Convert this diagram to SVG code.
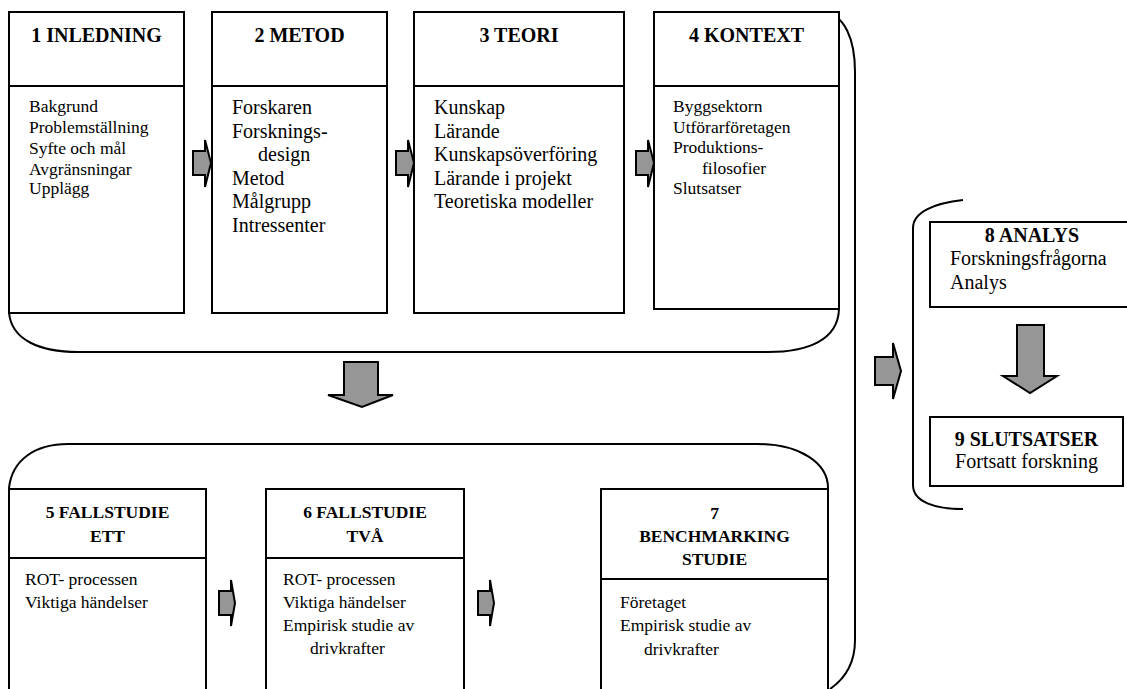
<svg xmlns="http://www.w3.org/2000/svg" width="1127" height="689" viewBox="0 0 1127 689">
  <style>
    .box { fill: #fff; stroke: #000; stroke-width: 2; }
    .div { stroke: #000; stroke-width: 2; fill: none; }
    .brk { fill: none; stroke: #000; stroke-width: 2; }
    .arr { fill: #969696; stroke: #000; stroke-width: 2; stroke-linejoin: miter; }
    .t { font-family: "Liberation Serif", "Times New Roman", serif; font-weight: bold; text-anchor: middle; fill: #000; }
    .b { font-family: "Liberation Serif", "Times New Roman", serif; fill: #000; }
    .t20 { font-size: 20px; }
    .t17 { font-size: 17.5px; }
    .s20 { font-size: 20px; }
    .s17 { font-size: 17.5px; }
  </style>
  <rect width="1127" height="689" fill="#fff"/>

  <!-- group brackets -->
  <g id="brackets">
    <path class="brk" d="M 9 312 C 11 340 40 352 78 352 L 768 352 C 808 352 838 340 839 309"/>
    <path class="brk" d="M 823 12 C 845 14 855 40 855 72 L 855 640 C 855 663 846 678 830 689"/>
    <path class="brk" d="M 9 488 C 12 460 35 444 68 444 L 757 444 C 800 444 828 463 828 488"/>
    <path class="brk" d="M 963 200 C 935 203 913 212 913 228 L 913 485 C 913 502 935 509 963 509"/>
  </g>

  <!-- chapter 1 -->
  <g id="n1">
    <rect class="box" x="9" y="12" width="175" height="301"/>
    <line class="div" x1="9" y1="86" x2="184" y2="86"/>
    <text class="t t20" x="96.5" y="42">1 INLEDNING</text>
    <text class="b s17" x="29" y="112">Bakgrund</text>
    <text class="b s17" x="29" y="133">Problemställning</text>
    <text class="b s17" x="29" y="154">Syfte och mål</text>
    <text class="b s17" x="29" y="175">Avgränsningar</text>
    <text class="b s17" x="29" y="194">Upplägg</text>
  </g>

  <!-- chapter 2 -->
  <g id="n2">
    <rect class="box" x="212" y="12" width="175" height="301"/>
    <line class="div" x1="212" y1="86" x2="387" y2="86"/>
    <text class="t t20" x="299.5" y="42">2 METOD</text>
    <text class="b s20" x="232" y="114">Forskaren</text>
    <text class="b s20" x="232" y="137.5">Forsknings-</text>
    <text class="b s20" x="258" y="161">design</text>
    <text class="b s20" x="232" y="184.5">Metod</text>
    <text class="b s20" x="232" y="208">Målgrupp</text>
    <text class="b s20" x="232" y="232">Intressenter</text>
  </g>

  <!-- chapter 3 -->
  <g id="n3">
    <rect class="box" x="414" y="12" width="210" height="301"/>
    <line class="div" x1="414" y1="86" x2="624" y2="86"/>
    <text class="t t20" x="519" y="42">3 TEORI</text>
    <text class="b s20" x="434" y="114">Kunskap</text>
    <text class="b s20" x="434" y="137.5">Lärande</text>
    <text class="b s20" x="434" y="161">Kunskapsöverföring</text>
    <text class="b s20" x="434" y="184.5">Lärande i projekt</text>
    <text class="b s20" x="434" y="208">Teoretiska modeller</text>
  </g>

  <!-- chapter 4 -->
  <g id="n4">
    <rect class="box" x="654" y="12" width="185" height="297"/>
    <line class="div" x1="654" y1="86" x2="839" y2="86"/>
    <text class="t t20" x="746.5" y="42">4 KONTEXT</text>
    <text class="b s17" x="673" y="112">Byggsektorn</text>
    <text class="b s17" x="673" y="133">Utförarföretagen</text>
    <text class="b s17" x="673" y="153">Produktions-</text>
    <text class="b s17" x="702" y="174">filosofier</text>
    <text class="b s17" x="673" y="194">Slutsatser</text>
  </g>

  <!-- chapter 5 -->
  <g id="n5">
    <rect class="box" x="9" y="489" width="197" height="220"/>
    <line class="div" x1="9" y1="558" x2="206" y2="558"/>
    <text class="t t17" x="107.5" y="518">5 FALLSTUDIE</text>
    <text class="t t17" x="107.5" y="542">ETT</text>
    <text class="b s17" x="25" y="585">ROT- processen</text>
    <text class="b s17" x="25" y="608">Viktiga händelser</text>
  </g>

  <!-- chapter 6 -->
  <g id="n6">
    <rect class="box" x="266" y="489" width="198" height="220"/>
    <line class="div" x1="266" y1="558" x2="464" y2="558"/>
    <text class="t t17" x="365" y="518">6 FALLSTUDIE</text>
    <text class="t t17" x="365" y="542">TVÅ</text>
    <text class="b s17" x="283" y="585">ROT- processen</text>
    <text class="b s17" x="283" y="608">Viktiga händelser</text>
    <text class="b s17" x="283" y="631">Empirisk studie av</text>
    <text class="b s17" x="310" y="654">drivkrafter</text>
  </g>

  <!-- chapter 7 -->
  <g id="n7">
    <rect class="box" x="601" y="489" width="227" height="220"/>
    <line class="div" x1="601" y1="579" x2="828" y2="579"/>
    <text class="t t17" x="714.5" y="519">7</text>
    <text class="t t17" x="714.5" y="542">BENCHMARKING</text>
    <text class="t t17" x="714.5" y="565">STUDIE</text>
    <text class="b s17" x="620" y="608">Företaget</text>
    <text class="b s17" x="620" y="631">Empirisk studie av</text>
    <text class="b s17" x="644" y="655">drivkrafter</text>
  </g>

  <!-- chapter 8 -->
  <g id="n8">
    <rect class="box" x="930" y="222" width="204" height="85"/>
    <text class="t t20" x="1032" y="242">8 ANALYS</text>
    <text class="b s20" x="950" y="265">Forskningsfrågorna</text>
    <text class="b s20" x="950" y="289">Analys</text>
  </g>

  <!-- chapter 9 -->
  <g id="n9">
    <rect class="box" x="930" y="417" width="193" height="69"/>
    <text class="t t20" x="1026.5" y="446">9 SLUTSATSER</text>
    <text class="b s20" x="1026.5" y="468" text-anchor="middle">Fortsatt forskning</text>
  </g>

  <!-- block arrows -->
  <g id="connectors">
    <polygon class="arr" points="193,151 205,151 205,140 211,163 205,187 205,175 193,175"/>
    <polygon class="arr" points="396,151 408,151 408,140 414,163 408,187 408,175 396,175"/>
    <polygon class="arr" points="636,151 648,151 648,140 654,163 648,187 648,175 636,175"/>
    <polygon class="arr" points="219,591 231,591 231,580 235,603 231,626 231,615 219,615"/>
    <polygon class="arr" points="478,591 490,591 490,580 494,603 490,626 490,615 478,615"/>
    <polygon class="arr" points="875,357 893,357 893,343 901,371 893,399 893,385 875,385"/>
    <polygon class="arr" points="344,362 378,362 378,395 393,395 362,407 328,395 344,395"/>
    <polygon class="arr" points="1017,325 1044,325 1044,376 1057,376 1030,393 1003,376 1017,376"/>
  </g>
</svg>
